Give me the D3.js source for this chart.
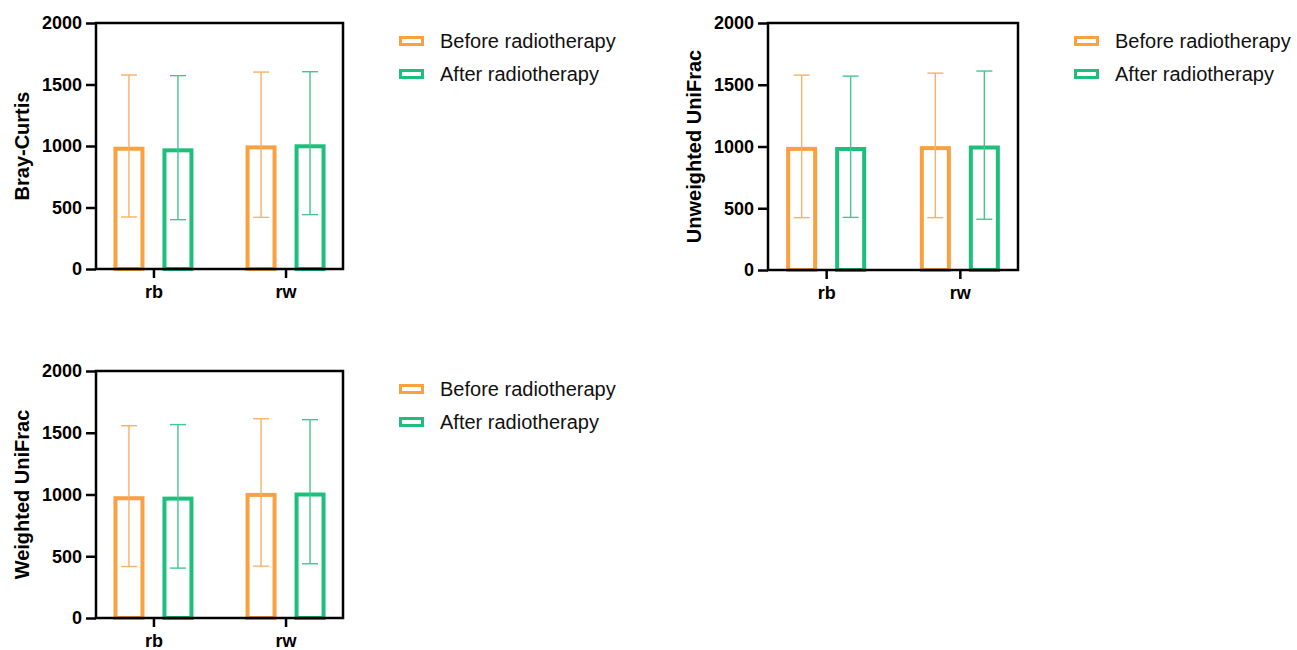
<!DOCTYPE html>
<html>
<head>
<meta charset="utf-8">
<script src="https://cdn.jsdelivr.net/npm/d3@7"></script>
<style>
  body { margin: 0; background: #fff; }
  svg { font-family: Arial, "Liberation Sans", sans-serif; }
</style>
</head>
<body>
<svg width="1297" height="650"></svg>
<script>
// data
var categories = ["rb", "rw"];
var seriesNames = ["Before radiotherapy", "After radiotherapy"];
var yTicks = [0, 500, 1000, 1500, 2000];

var brayBeforeMean = [994, 1005];
var brayBeforeLow = [423, 420];
var brayBeforeHigh = [1577, 1601];
var brayAfterMean = [981, 1014];
var brayAfterLow = [401, 442];
var brayAfterHigh = [1572, 1604];

var unwBeforeMean = [997, 1003];
var unwBeforeLow = [424, 424];
var unwBeforeHigh = [1578, 1594];
var unwAfterMean = [996, 1008];
var unwAfterLow = [426, 411];
var unwAfterHigh = [1570, 1611];

var wBeforeMean = [986, 1013];
var wBeforeLow = [417, 420];
var wBeforeHigh = [1557, 1614];
var wAfterMean = [983, 1016];
var wAfterLow = [404, 439];
var wAfterHigh = [1566, 1606];

var barColors = ["#F9A03F", "#1DBF7D"];
var errColors = ["#F7B168", "#3FC88F"];

var panels = [
  { label: "Bray-Curtis", left: 96, top: 23, width: 247, height: 246,
    series: [[brayBeforeMean, brayBeforeLow, brayBeforeHigh], [brayAfterMean, brayAfterLow, brayAfterHigh]] },
  { label: "Unweighted UniFrac", left: 768, top: 23, width: 250, height: 247,
    series: [[unwBeforeMean, unwBeforeLow, unwBeforeHigh], [unwAfterMean, unwAfterLow, unwAfterHigh]] },
  { label: "Weighted UniFrac", left: 96, top: 371, width: 247, height: 247,
    series: [[wBeforeMean, wBeforeLow, wBeforeHigh], [wAfterMean, wAfterLow, wAfterHigh]] }
];

var svg = d3.select("svg");

panels.forEach(function(p) {
  var g = svg.append("g").attr("transform", "translate(" + p.left + "," + p.top + ")");

  var xScale = d3.scalePoint()
                 .domain(categories)
                 .range([0, p.width])
                 .padding(0.435);
  var subScale = d3.scaleBand()
                   .domain(seriesNames)
                   .range([-40, 40])
                   .paddingInner(0.367)
                   .paddingOuter(0);
  var yScale = d3.scaleLinear()
                 .domain([0, 2000])
                 .range([p.height, 0]);

  // bars
  var sw = 4;
  p.series.forEach(function(s, si) {
    var mean = s[0], low = s[1], high = s[2];
    var name = seriesNames[si];
    g.selectAll(".bar" + si)
     .data(categories)
     .enter().append("rect")
     .attr("x", function(d) { return xScale(d) + subScale(name) + sw / 2; })
     .attr("y", function(d, i) { return yScale(mean[i]) + sw / 2; })
     .attr("width", subScale.bandwidth() - sw)
     .attr("height", function(d, i) { return p.height - yScale(mean[i]) - sw / 2; })
     .attr("fill", "#fff")
     .attr("stroke", barColors[si])
     .attr("stroke-width", sw);

    // error bars
    categories.forEach(function(c, i) {
      var cx = xScale(c) + subScale(name) + subScale.bandwidth() / 2;
      var eg = g.append("g").attr("stroke", errColors[si]).attr("stroke-width", 1.4);
      eg.append("line").attr("x1", cx).attr("x2", cx)
        .attr("y1", yScale(low[i])).attr("y2", yScale(high[i]));
      eg.append("line").attr("x1", cx - 8).attr("x2", cx + 8)
        .attr("y1", yScale(high[i])).attr("y2", yScale(high[i]));
      eg.append("line").attr("x1", cx - 8).attr("x2", cx + 8)
        .attr("y1", yScale(low[i])).attr("y2", yScale(low[i]));
    });
  });

  // frame
  g.append("rect")
   .attr("width", p.width).attr("height", p.height)
   .attr("fill", "none").attr("stroke", "#000").attr("stroke-width", 2.5);

  var y_axis = d3.axisLeft(yScale).tickValues(yTicks).tickFormat(d3.format("d"))
                 .tickSize(10).tickPadding(4);
  var yg = g.append("g").call(y_axis);
  yg.select(".domain").remove();
  yg.selectAll("line").attr("stroke", "#000").attr("stroke-width", 2.5);
  yg.selectAll("text").attr("font-size", "18px").attr("font-weight", "bold").attr("fill", "#000")
    .attr("font-family", "Arial, 'Liberation Sans', sans-serif");

  var x_axis = d3.axisBottom(xScale).tickSize(9).tickPadding(7);
  var xg = g.append("g").attr("transform", "translate(0," + p.height + ")").call(x_axis);
  xg.select(".domain").remove();
  xg.selectAll("line").attr("stroke", "#000").attr("stroke-width", 2.5);
  xg.selectAll("text").attr("font-size", "18px").attr("font-weight", "bold").attr("fill", "#000")
    .attr("font-family", "Arial, 'Liberation Sans', sans-serif");

  // y label
  g.append("text")
   .attr("transform", "translate(-74," + (p.height / 2) + ") rotate(-90)")
   .attr("text-anchor", "middle")
   .attr("dominant-baseline", "central")
   .attr("font-size", "20px").attr("font-weight", "bold")
   .text(p.label);

  // legend
  var lg = g.append("g").attr("transform", "translate(" + (p.width + 56) + ",0)");
  seriesNames.forEach(function(n, i) {
    var cy = 18 + i * 33;
    lg.append("rect")
      .attr("x", 1.5).attr("y", cy - 3.5)
      .attr("width", 22).attr("height", 7)
      .attr("fill", "#fff").attr("stroke", barColors[i]).attr("stroke-width", 3);
    lg.append("text")
      .attr("x", 41).attr("y", cy)
      .attr("dominant-baseline", "central")
      .attr("font-size", "20px").attr("fill", "#111")
      .text(n);
  });
});
</script>
</body>
</html>
